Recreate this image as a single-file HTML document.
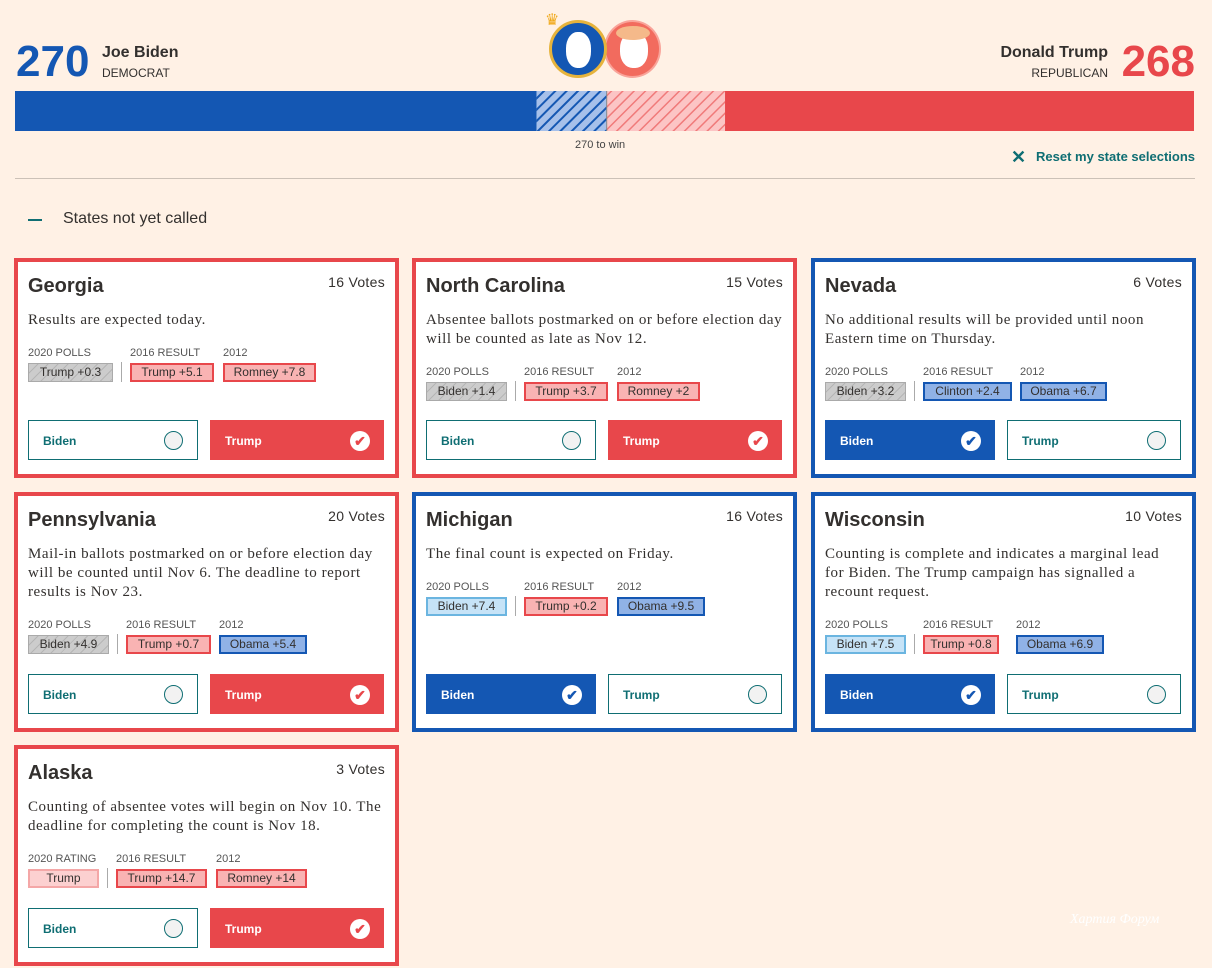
<!DOCTYPE html>
<html><head><meta charset="utf-8">
<style>
*{box-sizing:border-box;margin:0;padding:0}
body{width:1212px;height:968px;background:#fff1e5;font-family:"Liberation Sans",sans-serif;position:relative;overflow:hidden;color:#33302e}
.abs{position:absolute}
.card{position:absolute;background:#fff;border:4px solid #e8474b}
.card.blue{border-color:#1457b3}
.title{position:absolute;left:10px;top:13px;font-size:20px;font-weight:bold;color:#33302e}
.votes{position:absolute;right:10px;top:12px;font-size:14px;color:#33302e;letter-spacing:0.3px}
.desc{position:absolute;left:10px;top:49px;white-space:nowrap;font-family:"Liberation Serif",serif;font-size:15px;letter-spacing:0.55px;line-height:19px;color:#33302e}
.lbl{position:absolute;font-size:11px;color:#555}
.tag{position:absolute;height:19px;font-size:12px;line-height:15px;text-align:center;border:2px solid #e8474b;background:#f9b3b3;color:#33302e}
.tag.gray{border:1px solid #aaa;background:repeating-linear-gradient(135deg,#ccc 0 6px,#b5b5b5 6px 7px);line-height:17px}
.tag.lb{border:2px solid #6bb5e0;background:#c6e3f7}
.tag.db{border:2px solid #1457b3;background:#90b2e6}
.tag.pk{border:2px solid #f4a7a7;background:#fcd0d0}
.sep{position:absolute;width:1px;height:20px;background:#aaa}
.btn{position:absolute;height:40px;font-size:12px;font-weight:bold;line-height:40px;padding-left:14px;border:1px solid #0f6e73;color:#0f6e73;background:#fff}
.btn.r{background:#e8474b;border-color:#e8474b;color:#fff}
.btn.b{background:#1457b3;border-color:#1457b3;color:#fff}
.circ{position:absolute;right:14px;top:10px;width:19px;height:19px;border-radius:50%;border:1px solid #0f6e73;background:#f2f2f2}
.chk{position:absolute;right:13px;top:10px;width:20px;height:20px;border-radius:50%;background:#fff;text-align:center;line-height:20px;font-size:14px}
</style></head><body>
<div class="abs" style="left:16px;top:38px;font-size:44px;font-weight:bold;color:#1457b3;line-height:48px">270</div>
<div class="abs" style="left:102px;top:44px;font-size:16px;font-weight:bold">Joe Biden</div>
<div class="abs" style="left:102px;top:66px;font-size:12px">DEMOCRAT</div>
<div class="abs" style="right:17px;top:38px;font-size:44px;font-weight:bold;color:#e8474b;line-height:48px">268</div>
<div class="abs" style="right:104px;top:44px;font-size:16px;font-weight:bold">Donald Trump</div>
<div class="abs" style="right:104px;top:66px;font-size:12px">REPUBLICAN</div>
<div class="abs" style="left:604px;top:20px;width:57px;height:58px;border-radius:50%;background:#f26b5e;border:2px solid #f9a49a"><div style="position:absolute;left:14px;top:10px;width:28px;height:36px;border-radius:45%;background:#fff"></div><div style="position:absolute;left:10px;top:4px;width:34px;height:14px;border-radius:50%;background:#f5b98a"></div></div>
<div class="abs" style="left:549px;top:20px;width:58px;height:58px;border-radius:50%;background:#1457b3;border:3px solid #e6b33c"><div style="position:absolute;left:14px;top:9px;width:25px;height:36px;border-radius:45%;background:#fff"></div></div>
<div class="abs" style="left:545px;top:10px;color:#f0a818;font-size:16px">♛</div>
<svg class="abs" style="left:0;top:0" width="1212" height="140">
<defs>
<pattern id="hb" width="8" height="8" patternUnits="userSpaceOnUse" patternTransform="rotate(45)"><rect width="8" height="8" fill="#a6c0ea"/><rect width="2" height="8" fill="#1457b3"/></pattern>
<pattern id="hr" width="8" height="8" patternUnits="userSpaceOnUse" patternTransform="rotate(45)"><rect width="8" height="8" fill="#fcc5c5"/><rect width="1.5" height="8" fill="#f07a7a"/></pattern>
</defs>
<g id="bar"></g>
</svg>
<div class="abs" style="left:575px;top:139px;font-size:11px;color:#444">270 to win</div>
<div class="abs" style="right:17px;top:147px;font-size:13px;font-weight:bold;color:#0f6e73"><span style="font-size:18px;margin-right:10px;vertical-align:-2px">✕</span>Reset my state selections</div>
<div class="abs" style="left:15px;top:178px;width:1180px;height:1px;background:#ccc1b7"></div>
<div class="abs" style="left:28px;top:219px;width:14px;height:2px;background:#0f6e73"></div>
<div class="abs" style="left:63px;top:210px;font-size:16px;color:#33302e">States not yet called</div>
<div id="cards"></div>
<div class="abs" style="left:1070px;top:912px;font-size:14px;color:#fff;font-family:'Liberation Serif',serif;font-style:italic">Хартия Форум</div>
<script>
const segLabels=["biden-called","biden-lean","trump-lean","trump-called"];
const segVotes=[238,32,54,214];
const segFills=["#1457b3","url(#hb)","url(#hr)","#e8474b"];
const totalVotes=538;
const x0=15,x1=1194;
const xs=v=>x0+(x1-x0)*v/totalVotes;
const g=document.getElementById('bar');
let acc=0;
segVotes.forEach((v,i)=>{
 const r=document.createElementNS('http://www.w3.org/2000/svg','rect');
 r.setAttribute('x',xs(acc));r.setAttribute('width',xs(acc+v)-xs(acc));
 r.setAttribute('y',91);r.setAttribute('height',40);r.setAttribute('fill',segFills[i]);
 
 
 g.appendChild(r);acc+=v;
});
const ln=document.createElementNS('http://www.w3.org/2000/svg','line');
ln.setAttribute('x1',xs(270));ln.setAttribute('x2',xs(270));ln.setAttribute('y1',91);ln.setAttribute('y2',131);
ln.setAttribute('stroke','#888');ln.setAttribute('stroke-width',1);


g.appendChild(ln);

const states=[
{n:"Georgia",v:16,c:"r",x:14,y:258,h:220,d:["Results are expected today."],l1:"2020 POLLS",t:[["Trump +0.3","gray",85],["Trump +5.1","",84],["Romney +7.8","",93]],lx:[0,102,195],sel:"t"},
{n:"North Carolina",v:15,c:"r",x:412,y:258,h:220,d:["Absentee ballots postmarked on or before election day","will be counted as late as Nov 12."],l1:"2020 POLLS",t:[["Biden +1.4","gray",81],["Trump +3.7","",84],["Romney +2","",83]],lx:[0,98,191],sel:"t"},
{n:"Nevada",v:6,c:"b",x:811,y:258,h:220,d:["No additional results will be provided until noon","Eastern time on Thursday."],l1:"2020 POLLS",t:[["Biden +3.2","gray",81],["Clinton +2.4","db",89],["Obama +6.7","db",87]],lx:[0,98,195],sel:"b"},
{n:"Pennsylvania",v:20,c:"r",x:14,y:492,h:240,d:["Mail-in ballots postmarked on or before election day","will be counted until Nov 6. The deadline to report","results is Nov 23."],l1:"2020 POLLS",t:[["Biden +4.9","gray",81],["Trump +0.7","",85],["Obama +5.4","db",88]],lx:[0,98,191],sel:"t"},
{n:"Michigan",v:16,c:"b",x:412,y:492,h:240,d:["The final count is expected on Friday."],l1:"2020 POLLS",t:[["Biden +7.4","lb",81],["Trump +0.2","",84],["Obama +9.5","db",88]],lx:[0,98,191],sel:"b"},
{n:"Wisconsin",v:10,c:"b",x:811,y:492,h:240,d:["Counting is complete and indicates a marginal lead","for Biden. The Trump campaign has signalled a","recount request."],l1:"2020 POLLS",t:[["Biden +7.5","lb",81],["Trump +0.8","",76],["Obama +6.9","db",88]],lx:[0,98,191],sel:"b"},
{n:"Alaska",v:3,c:"r",x:14,y:745,h:221,d:["Counting of absentee votes will begin on Nov 10. The","deadline for completing the count is Nov 18."],l1:"2020 RATING",t:[["Trump","pk",71],["Trump +14.7","",91],["Romney +14","",91]],lx:[0,88,188],sel:"t"}
];
const wrap=document.getElementById('cards');
states.forEach(s=>{
 const lines=s.d.length;
 const ty=49+lines*19+17;
 const c=document.createElement('div');
 c.className='card'+(s.c==='b'?' blue':'');
 c.style.cssText=`left:${s.x}px;top:${s.y}px;width:385px;height:${s.h}px`;
 
 
 const labels=[s.l1,"2016 RESULT","2012"];
 let h=`<div class="title">${s.n}</div><div class="votes">${s.v} Votes</div><div class="desc">${s.d.join('<br>')}</div>`;
 labels.forEach((l,i)=>{h+=`<div class="lbl" style="left:${10+s.lx[i]}px;top:${ty}px">${l}</div>`;});
 s.t.forEach((t,i)=>{h+=`<div class="tag ${t[1]}" style="left:${10+s.lx[i]}px;top:${ty+16}px;width:${t[2]}px">${t[0]}</div>`;});
 h+=`<div class="sep" style="left:${10+s.lx[1]-9}px;top:${ty+15}px"></div>`;
 const bb=s.sel==='b',tb=s.sel==='t';
 const by=s.h-8-14-40;
 h+=`<div class="btn ${bb?'b':''}" style="left:10px;top:${by}px;width:170px">Biden${bb?'<div class="chk" style="color:#1457b3">✔</div>':'<div class="circ"></div>'}</div>`;
 h+=`<div class="btn ${tb?'r':''}" style="left:192px;top:${by}px;width:174px">Trump${tb?'<div class="chk" style="color:#e8474b">✔</div>':'<div class="circ"></div>'}</div>`;
 c.innerHTML=h;
 wrap.appendChild(c);
});
</script>
</body></html>
